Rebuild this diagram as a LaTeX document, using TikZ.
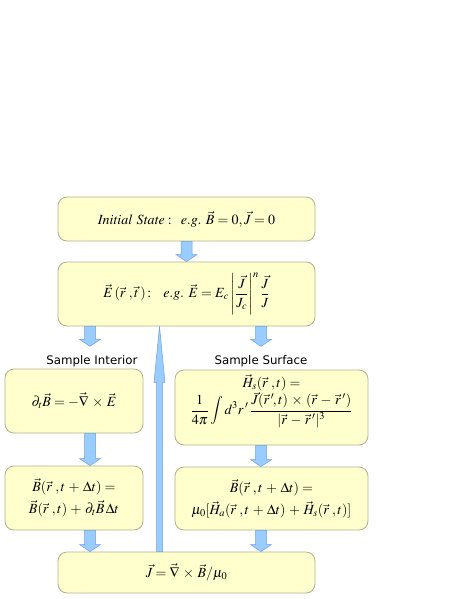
\documentclass[tikz,border=0pt]{standalone}
\usepackage{amsmath}
\usepackage{mathptmx}
\usepackage[no-math]{fontspec}
\newfontfamily\labfont{DejaVu Sans}
\usetikzlibrary{calc}
\definecolor{boxfill}{RGB}{255,255,206}
\definecolor{boxline}{RGB}{178,176,140}
\definecolor{arrfill}{RGB}{153,204,255}
\definecolor{arrline}{RGB}{112,160,222}
\tikzset{
  box/.style={draw=boxline, fill=boxfill, rounded corners=9pt, line width=0.8pt,
    align=center, inner sep=2pt, font=\fontsize{14}{22}\selectfont},
  lab/.style={font=\labfont\fontsize{11.8}{14}\selectfont, inner xsep=0pt, inner ysep=8.5pt, anchor=base},
  blockarr/.style={draw=arrline, fill=arrfill, line width=0.5pt, line join=miter}
}
\newcommand{\blockarrow}[5]{%
  \draw[blockarr] let \p1=(#1), \p2=(#2) in
    (\x1-#3,\y1) -- (\x1-#3,\y2+#5) -- (\x1-#4,\y2+#5) -- (\x1,\y2)
    -- (\x1+#4,\y2+#5) -- (\x1+#3,\y2+#5) -- (\x1+#3,\y1) -- cycle;}
\newcommand{\wop}[1]{\mathbin{\mkern2mu#1\mkern2mu}}
\begin{document}
\begin{tikzpicture}[x=1pt,y=-1pt]
\useasboundingbox (0,0) rectangle (463,599);
% x positions of the block arrows
\coordinate (xm) at (186.5,0);
\coordinate (xl) at (90,0);
\coordinate (xr) at (261,0);
\coordinate (xu) at (159.5,0);
% boxes
\node[box, minimum width=257pt, minimum height=44pt] (init) at (186.5,219)
  {$\mathit{Initial\ State:}\ \ e.g.\ \vec{B}=0,\vec{J}=0$};
\node[box, minimum width=257pt, minimum height=64pt] (efield) at (186.5,294)
  {$\vec{E}\,(\vec{r}\;,\vec{t}\,)\!:\ \ e.g.\ \vec{E}=E_c\left|\dfrac{\vec{J}}{J_c}\right|^{n}\dfrac{\vec{J}}{J}$};
\node[lab] (lint) at (92,364) {Sample Interior};
\node[lab] (lsurf) at (261,364) {Sample Surface};
\node[box, minimum width=138pt, minimum height=64pt] (curl) at (74,401)
  {$\partial_t\vec{B}=-\vec{\nabla}\wop{\times}\vec{E}$};
\node[box, minimum width=138pt, minimum height=64pt] (bint) at (74,498)
  {$\vec{B}(\vec{r}\;,t\wop{+}\Delta t)=$\\$\vec{B}(\vec{r}\;,t)\wop{+}\partial_t\vec{B}\,\Delta t$};
\node[box, minimum width=193pt, minimum height=75pt] (hs) at (271.5,407.5)
  {$\vec{H}_s(\vec{r}\;,t)=$\\$\dfrac{1}{4\pi}\displaystyle\int d^3r\,'\,\frac{\vec{J}(\vec{r}\,'\!,t)\wop{\times}(\vec{r}\wop{-}\vec{r}\,')}{|\vec{r}\wop{-}\vec{r}\,'|^3}\vrule depth 26pt width 0pt height 0pt$};
\node[box, minimum width=193pt, minimum height=63pt] (bsurf) at (271.5,498.5)
  {$\vec{B}(\vec{r}\;,t\wop{+}\Delta t)=$\\$\mu_0[\vec{H}_a(\vec{r}\;,t\wop{+}\Delta t)\wop{+}\vec{H}_s(\vec{r}\;,t)]$};
\node[box, minimum width=257pt, minimum height=41pt] (jcurl) at (186.5,572.5)
  {$\vec{J}=\vec{\nabla}\wop{\times}\vec{B}/\mu_0$};
% block arrows
\blockarrow{init.south -| xm}{efield.north -| xm}{5.5pt}{10.5pt}{7pt}
\blockarrow{efield.south -| xl}{lint.north -| xl}{5.5pt}{10.5pt}{7pt}
\blockarrow{efield.south -| xr}{lsurf.north -| xr}{5.5pt}{10.5pt}{7pt}
\blockarrow{curl.south -| xl}{bint.north -| xl}{5.5pt}{10.5pt}{7pt}
\blockarrow{hs.south -| xr}{bsurf.north -| xr}{5.5pt}{10.5pt}{7pt}
\blockarrow{bint.south -| xl}{jcurl.north -| xl}{5.5pt}{10.5pt}{7pt}
\blockarrow{bsurf.south -| xr}{jcurl.north -| xr}{5.5pt}{10.5pt}{7pt}
\blockarrow{jcurl.north -| xu}{efield.south -| xu}{3pt}{5.5pt}{-56pt}
\end{tikzpicture}
\end{document}
